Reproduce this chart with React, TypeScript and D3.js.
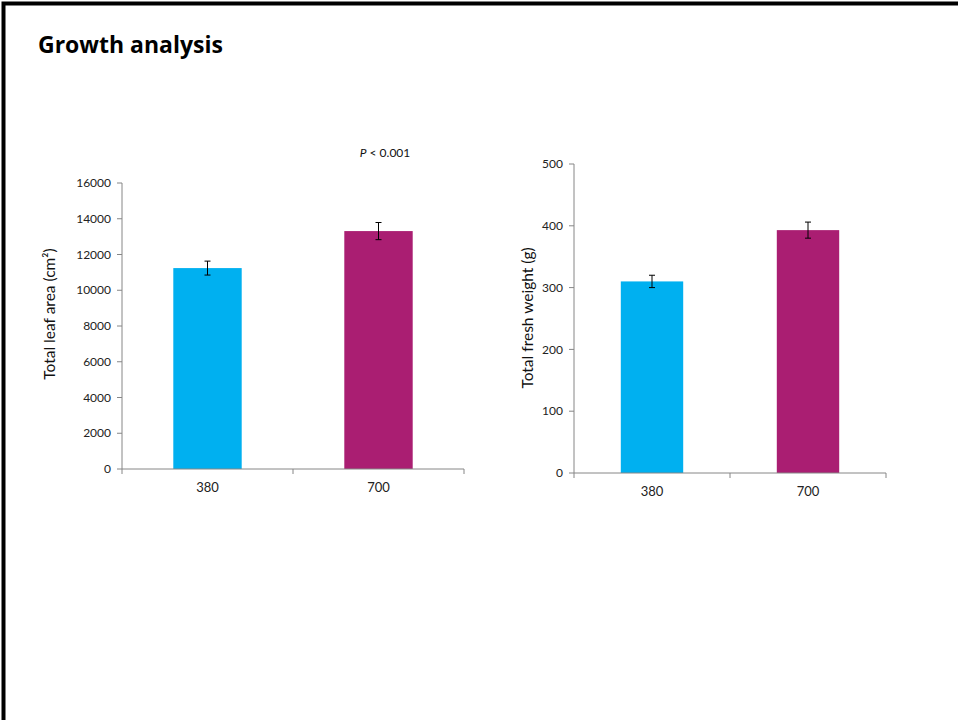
import React from "react";
import * as d3 from "d3";

const categories = ["380", "700"];
const leafArea = [11240, 13310];
const leafAreaErr = [390, 480];
const leafTicks = [0, 2000, 4000, 6000, 8000, 10000, 12000, 14000, 16000];
const freshWeight = [310, 393];
const freshWeightErr = [10, 13];
const weightTicks = [0, 100, 200, 300, 400, 500];
const barColors = ["#00B0F0", "#AA1E72"];

const FONT = "Lato, 'Open Sans', sans-serif";
const AXIS = "#868686";

type PanelProps = {
  x0: number; x1: number; yTop: number; yBottom: number;
  max: number; values: number[]; errs: number[]; ticks: number[];
  label: string; labelX: number; labelY: number;
};

function Panel(p: PanelProps) {
  const x = d3.scaleBand<string>().domain(categories).range([p.x0, p.x1]).paddingInner(0.6).paddingOuter(0.3);
  const xb = d3.scaleBand<string>().domain(categories).range([p.x0, p.x1]);
  const y = d3.scaleLinear().domain([0, p.max]).range([p.yBottom, p.yTop]);
  const boundaries = [p.x0, ...categories.map((c) => (xb(c) as number) + xb.bandwidth())];
  return (
    <g>
      {categories.map((c, i) => (
        <rect key={c} x={x(c)} width={x.bandwidth()} y={y(p.values[i])} height={y(0) - y(p.values[i])} fill={barColors[i]} />
      ))}
      {categories.map((c, i) => {
        const cx = (x(c) as number) + x.bandwidth() / 2;
        const t = y(p.values[i] + p.errs[i]);
        const b = y(p.values[i] - p.errs[i]);
        return (
          <g key={c} stroke="#000" strokeWidth={1}>
            <line x1={cx} x2={cx} y1={t} y2={b} />
            <line x1={cx - 3} x2={cx + 3} y1={t} y2={t} />
            <line x1={cx - 3} x2={cx + 3} y1={b} y2={b} />
          </g>
        );
      })}
      <line x1={p.x0} x2={p.x0} y1={p.yTop} y2={p.yBottom} stroke={AXIS} />
      <line x1={p.x0} x2={p.x1} y1={p.yBottom} y2={p.yBottom} stroke={AXIS} />
      {p.ticks.map((t) => (
        <g key={t}>
          <line x1={p.x0 - 5} x2={p.x0} y1={y(t)} y2={y(t)} stroke={AXIS} />
          <text x={p.x0 - 11} y={y(t)} dy="0.35em" textAnchor="end" fontSize={12} fill="#222" fontFamily={FONT}>{t}</text>
        </g>
      ))}
      {boundaries.map((bx, i) => (
        <line key={i} x1={bx} x2={bx} y1={p.yBottom} y2={p.yBottom + 5} stroke={AXIS} />
      ))}
      {categories.map((c) => (
        <text key={c} x={(xb(c) as number) + xb.bandwidth() / 2} y={p.yBottom + 23} textAnchor="middle" fontSize={13} fill="#222" fontFamily={FONT}>{c}</text>
      ))}
      <text transform={`translate(${p.labelX},${p.labelY}) rotate(-90)`} textAnchor="middle" dy="0.35em" fontSize={15.5} fill="#111" fontFamily={FONT}>{p.label}</text>
    </g>
  );
}

export default function App() {
  return (
    <svg width={958} height={720} style={{ position: "absolute", left: 0, top: 0, background: "#fff" }}>
      <rect x={0} y={0} width={958} height={720} fill="#fff" />
      <path d="M3.5,720 V3.5 H958" fill="none" stroke="#000" strokeWidth={4} />
      <text x={38} y={53} fontSize={23} fontWeight="bold" fontFamily="'Open Sans', sans-serif" fill="#000">Growth analysis</text>
      <Panel x0={122} x1={464} yTop={183} yBottom={469} max={16000} values={leafArea} errs={leafAreaErr} ticks={leafTicks} label="Total leaf area (cm²)" labelX={50} labelY={314} />
      <Panel x0={574} x1={886} yTop={164} yBottom={473} max={500} values={freshWeight} errs={freshWeightErr} ticks={weightTicks} label="Total fresh weight (g)" labelX={528} labelY={318} />
      <text x={385} y={157} textAnchor="middle" fontSize={12} fill="#111" fontFamily={FONT}>
        <tspan fontStyle="italic">P</tspan> &lt; 0.001
      </text>
    </svg>
  );
}
